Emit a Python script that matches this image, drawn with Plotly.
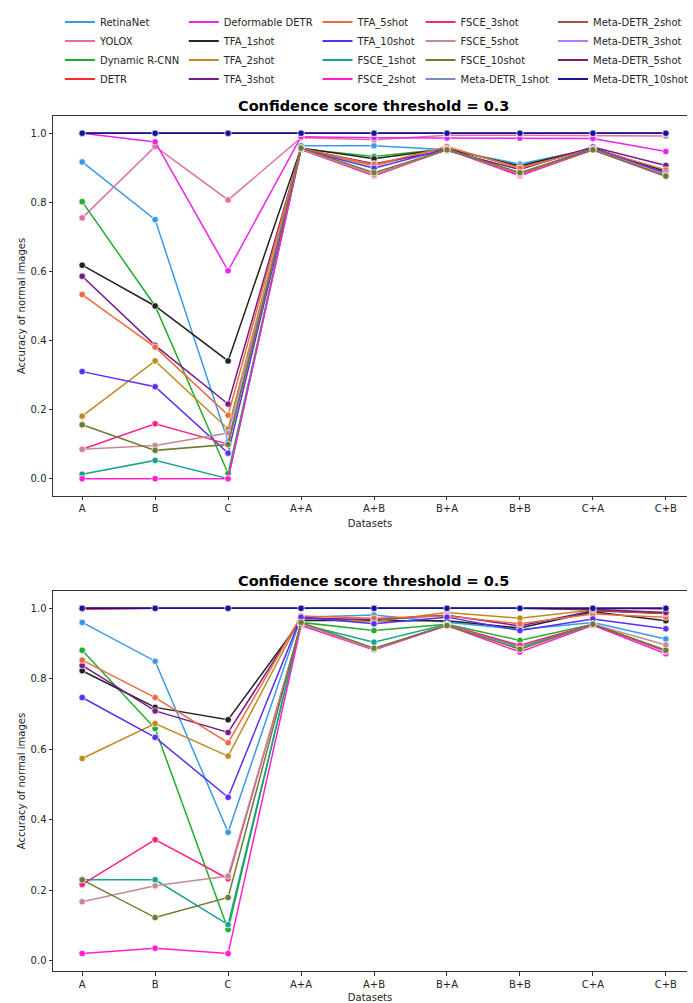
import plotly.graph_objects as go
from plotly.subplots import make_subplots

datasets = ["A", "B", "C", "A+A", "A+B", "B+A", "B+B", "C+A", "C+B"]

models = ["RetinaNet", "YOLOX", "Dynamic R-CNN", "DETR",
          "Deformable DETR", "TFA_1shot", "TFA_2shot", "TFA_3shot",
          "TFA_5shot", "TFA_10shot", "FSCE_1shot", "FSCE_2shot",
          "FSCE_3shot", "FSCE_5shot", "FSCE_10shot", "Meta-DETR_1shot",
          "Meta-DETR_2shot", "Meta-DETR_3shot", "Meta-DETR_5shot", "Meta-DETR_10shot"]

colors = ["#3a9ae8", "#e0709f", "#20ad2a", "#ff2a2a",
          "#ee22ee", "#222222", "#c08a1c", "#741a8a",
          "#f06a40", "#5a2ef5", "#16a391", "#ff1ed4",
          "#ff2284", "#c48a94", "#6e7b30", "#7b8dc0",
          "#a65540", "#b57bff", "#80205a", "#14149a"]

# ---- threshold = 0.3 ----
retinanet_03 = [0.917, 0.750, 0.107, 0.964, 0.964, 0.952, 0.911, 0.955, 0.885]
yolox_03 = [0.755, 0.962, 0.807, 0.987, 0.981, 0.994, 0.994, 0.994, 0.992]
dynrcnn_03 = [0.802, 0.500, 0.015, 0.955, 0.933, 0.955, 0.905, 0.955, 0.880]
detr_03 = [1.0, 1.0, 1.0, 1.0, 1.0, 1.0, 1.0, 1.0, 1.0]
defdetr_03 = [1.0, 0.975, 0.602, 0.990, 0.987, 0.986, 0.986, 0.985, 0.947]
tfa1_03 = [0.618, 0.500, 0.341, 0.957, 0.926, 0.955, 0.905, 0.957, 0.890]
tfa2_03 = [0.181, 0.341, 0.144, 0.955, 0.905, 0.960, 0.900, 0.955, 0.880]
tfa3_03 = [0.586, 0.386, 0.216, 0.955, 0.912, 0.950, 0.895, 0.960, 0.907]
tfa5_03 = [0.533, 0.381, 0.184, 0.957, 0.909, 0.961, 0.899, 0.955, 0.894]
tfa10_03 = [0.310, 0.266, 0.074, 0.953, 0.899, 0.955, 0.885, 0.955, 0.885]
fsce1_03 = [0.013, 0.053, 0.0, 0.955, 0.880, 0.953, 0.880, 0.952, 0.878]
fsce2_03 = [0.0, 0.0, 0.0, 0.953, 0.877, 0.953, 0.877, 0.952, 0.875]
fsce3_03 = [0.085, 0.159, 0.100, 0.955, 0.877, 0.953, 0.880, 0.952, 0.877]
fsce5_03 = [0.085, 0.096, 0.132, 0.955, 0.880, 0.953, 0.883, 0.953, 0.880]
fsce10_03 = [0.156, 0.082, 0.099, 0.957, 0.886, 0.952, 0.886, 0.952, 0.876]
meta1_03 = [1.0, 1.0, 1.0, 1.0, 1.0, 1.0, 1.0, 1.0, 1.0]
meta2_03 = [1.0, 1.0, 1.0, 1.0, 1.0, 1.0, 1.0, 1.0, 1.0]
meta3_03 = [1.0, 1.0, 1.0, 1.0, 1.0, 1.0, 1.0, 1.0, 1.0]
meta5_03 = [1.0, 1.0, 1.0, 1.0, 1.0, 1.0, 1.0, 1.0, 1.0]
meta10_03 = [1.0, 1.0, 1.0, 1.0, 1.0, 1.0, 1.0, 1.0, 1.0]

# ---- threshold = 0.5 ----
retinanet_05 = [0.960, 0.850, 0.365, 0.975, 0.981, 0.960, 0.940, 0.960, 0.913]
yolox_05 = [0.997, 1.0, 1.0, 1.0, 1.0, 1.0, 1.0, 1.0, 0.997]
dynrcnn_05 = [0.881, 0.659, 0.089, 0.960, 0.937, 0.955, 0.909, 0.955, 0.880]
detr_05 = [0.997, 1.0, 1.0, 1.0, 1.0, 1.0, 1.0, 1.0, 1.0]
defdetr_05 = [1.0, 1.0, 1.0, 1.0, 1.0, 1.0, 1.0, 1.0, 1.0]
tfa1_05 = [0.823, 0.719, 0.684, 0.966, 0.965, 0.965, 0.944, 0.990, 0.965]
tfa2_05 = [0.574, 0.673, 0.581, 0.975, 0.962, 0.988, 0.972, 0.995, 0.985]
tfa3_05 = [0.838, 0.709, 0.648, 0.972, 0.968, 0.980, 0.950, 0.993, 0.985]
tfa5_05 = [0.853, 0.747, 0.619, 0.978, 0.972, 0.978, 0.956, 0.984, 0.975]
tfa10_05 = [0.747, 0.634, 0.464, 0.975, 0.956, 0.975, 0.937, 0.970, 0.942]
fsce1_05 = [0.230, 0.230, 0.103, 0.955, 0.904, 0.955, 0.890, 0.955, 0.880]
fsce2_05 = [0.021, 0.036, 0.021, 0.951, 0.882, 0.951, 0.876, 0.952, 0.871]
fsce3_05 = [0.217, 0.344, 0.233, 0.955, 0.885, 0.953, 0.895, 0.955, 0.878]
fsce5_05 = [0.168, 0.213, 0.241, 0.955, 0.884, 0.953, 0.884, 0.955, 0.896]
fsce10_05 = [0.230, 0.123, 0.180, 0.960, 0.887, 0.951, 0.884, 0.955, 0.881]
meta1_05 = [1.0, 1.0, 1.0, 1.0, 1.0, 1.0, 1.0, 1.0, 1.0]
meta2_05 = [1.0, 1.0, 1.0, 1.0, 1.0, 1.0, 1.0, 0.995, 0.985]
meta3_05 = [1.0, 1.0, 1.0, 1.0, 1.0, 1.0, 1.0, 1.0, 1.0]
meta5_05 = [1.0, 1.0, 1.0, 1.0, 1.0, 1.0, 1.0, 0.997, 0.988]
meta10_05 = [1.0, 1.0, 1.0, 1.0, 1.0, 1.0, 1.0, 1.0, 1.0]

series_03 = [retinanet_03, yolox_03, dynrcnn_03, detr_03, defdetr_03, tfa1_03, tfa2_03,
             tfa3_03, tfa5_03, tfa10_03, fsce1_03, fsce2_03, fsce3_03, fsce5_03,
             fsce10_03, meta1_03, meta2_03, meta3_03, meta5_03, meta10_03]
series_05 = [retinanet_05, yolox_05, dynrcnn_05, detr_05, defdetr_05, tfa1_05, tfa2_05,
             tfa3_05, tfa5_05, tfa10_05, fsce1_05, fsce2_05, fsce3_05, fsce5_05,
             fsce10_05, meta1_05, meta2_05, meta3_05, meta5_05, meta10_05]

FONT = "DejaVu Sans"
W, H = 693, 1003
ML, MR, MT, MB = 53, 0, 116, 29
plot_h = H - MT - MB


def py(pix):
    return (H - MB - pix) / plot_h


def px(pix):
    return (pix - ML) / (W - ML - MR)


fig = make_subplots(rows=2, cols=1, vertical_spacing=0.1)

for row, allvals in ((1, series_03), (2, series_05)):
    for name, col, vals in zip(models, colors, allvals):
        fig.add_trace(go.Scatter(
            x=datasets, y=vals, mode="lines+markers", name=name,
            line=dict(color=col, width=1.5),
            marker=dict(size=6.5, color=col, line=dict(color="white", width=0.7)),
            showlegend=False), row=row, col=1)

# legend-only entries (lines, column-major like the reference)
legend_ids = ["legend", "legend2", "legend3", "legend4", "legend5"]
col_text_px = [100, 225, 360, 464, 598]
for i, (name, col) in enumerate(zip(models, colors)):
    fig.add_trace(go.Scatter(x=[None], y=[None], mode="lines", name=name,
                             line=dict(color=col, width=2),
                             legend=legend_ids[i // 4], showlegend=True))

legend_common = dict(yanchor="top", xanchor="left", y=py(7),
                     font=dict(family=FONT, size=10, color="#262626"),
                     bgcolor="rgba(0,0,0,0)", itemwidth=30, tracegroupgap=0)
layout_legends = {}
for lid, tx in zip(legend_ids, col_text_px):
    layout_legends[lid] = dict(legend_common, x=px(tx - 40))

dom1 = [py(497.3), 1.0]
dom2 = [0.0, py(592.7)]

axis_common = dict(showline=True, linecolor="#333333", linewidth=1,
                   ticks="outside", ticklen=3.5, tickwidth=0.8, tickcolor="#333333",
                   showgrid=False, zeroline=False,
                   tickfont=dict(family=FONT, size=10, color="#262626"))

fig.update_layout(
    width=W, height=H,
    margin=dict(l=ML, r=MR, t=MT, b=MB),
    plot_bgcolor="white", paper_bgcolor="white",
    font=dict(family=FONT, color="#262626"),
    **layout_legends,
    xaxis=dict(axis_common, type="category", range=[-0.4, 8.29], mirror=True,
               title=dict(text="Datasets", font=dict(family=FONT, size=10), standoff=6)),
    xaxis2=dict(axis_common, type="category", range=[-0.4, 8.29], mirror=True,
                title=dict(text="Datasets", font=dict(family=FONT, size=10), standoff=6)),
    yaxis=dict(axis_common, domain=dom1, range=[-0.05, 1.05],
               tickvals=[0, 0.2, 0.4, 0.6, 0.8, 1.0], tickformat=".1f",
               title=dict(text="Accuracy of normal images", font=dict(family=FONT, size=10), standoff=3)),
    yaxis2=dict(axis_common, domain=dom2, range=[-0.0285, 1.049],
                tickvals=[0, 0.2, 0.4, 0.6, 0.8, 1.0], tickformat=".1f",
                title=dict(text="Accuracy of normal images", font=dict(family=FONT, size=10), standoff=3)),
    annotations=[
        dict(text="<b>Confidence score threshold = 0.3</b>", xref="paper", yref="paper",
             x=px(377), y=py(106), xanchor="center", yanchor="middle", showarrow=False,
             font=dict(family=FONT, size=14.5, color="black")),
        dict(text="<b>Confidence score threshold = 0.5</b>", xref="paper", yref="paper",
             x=px(377), y=py(582.5), xanchor="center", yanchor="middle", showarrow=False,
             font=dict(family=FONT, size=14.5, color="black")),
    ],
)

fig.write_html("out.html")
